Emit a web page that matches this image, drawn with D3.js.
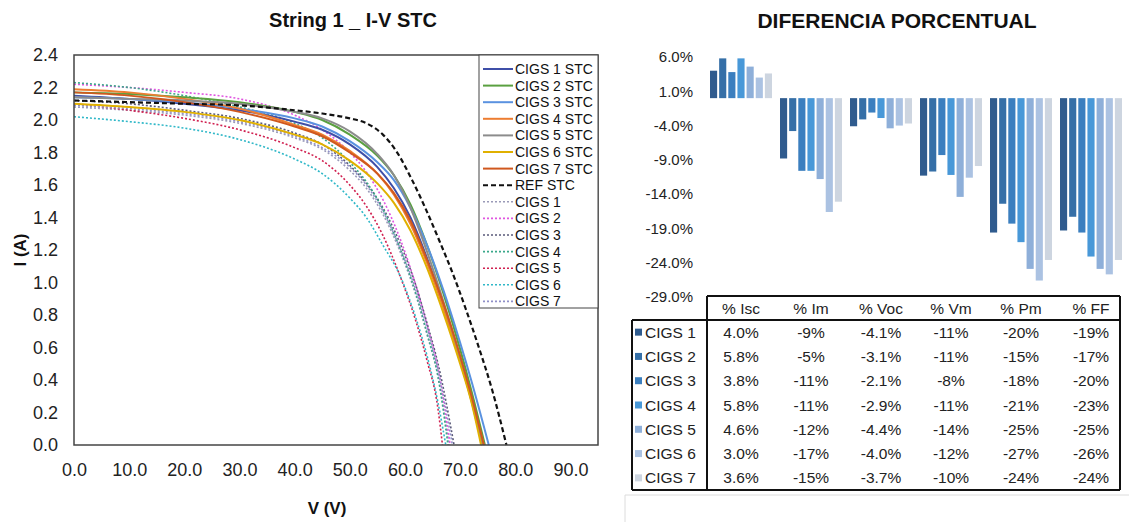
<!DOCTYPE html>
<html>
<head>
<meta charset="utf-8">
<script src="https://cdn.jsdelivr.net/npm/d3@7"></script>
<style>
  body { margin: 0; background: #fff; }
  svg { display: block; font-family: "Liberation Sans", Arial, sans-serif; }
</style>
</head>
<body>
<svg id="chart" width="1129" height="522"></svg>
<script>
// ---------- I-V curves: [voltage V, current A] ----------
const cigs1Stc = [[0,2.15],[10,2.13],[20,2.10],[30,2.06],[40,1.99],[45,1.94],[50,1.85],[55,1.71],[58,1.58],[61,1.40],[64,1.15],[67,0.85],[70,0.52],[72,0.28],[74.0,0]];
const cigs2Stc = [[0,2.17],[10,2.16],[20,2.14],[30,2.11],[40,2.05],[45,2.00],[50,1.91],[55,1.78],[58,1.66],[61,1.48],[64,1.23],[67,0.93],[70,0.59],[72,0.34],[74.5,0]];
const cigs3Stc = [[0,2.14],[10,2.13],[20,2.11],[30,2.07],[40,2.01],[45,1.96],[50,1.87],[55,1.74],[58,1.63],[61,1.46],[64,1.23],[67,0.95],[70,0.63],[72,0.40],[75.2,0]];
const cigs4Stc = [[0,2.19],[10,2.17],[20,2.13],[30,2.07],[40,1.97],[45,1.91],[50,1.81],[55,1.67],[58,1.54],[61,1.36],[64,1.12],[67,0.84],[70,0.52],[72,0.29],[74.3,0]];
const cigs5Stc = [[0,2.14],[10,2.13],[20,2.12],[30,2.10],[40,2.05],[45,2.01],[50,1.93],[55,1.79],[58,1.66],[61,1.46],[64,1.19],[67,0.88],[70,0.54],[72,0.30],[74.0,0]];
const cigs6Stc = [[0,2.10],[10,2.08],[20,2.05],[30,2.00],[40,1.91],[45,1.85],[50,1.75],[55,1.61],[58,1.49],[61,1.32],[64,1.09],[67,0.81],[70,0.50],[72,0.27],[73.8,0]];
const cigs7Stc = [[0,2.17],[10,2.15],[20,2.11],[30,2.05],[40,1.96],[45,1.90],[50,1.80],[55,1.67],[58,1.55],[61,1.38],[64,1.14],[67,0.87],[70,0.55],[72,0.31],[74.3,0]];
const refStc   = [[0,2.12],[10,2.11],[20,2.10],[30,2.09],[40,2.06],[45,2.04],[50,2.01],[53,1.98],[56,1.91],[58.4,1.81],[61.3,1.63],[63.8,1.45],[66.2,1.26],[68.5,1.07],[71,0.84],[73.4,0.60],[75.8,0.34],[78.4,0]];
const cigs1    = [[0,2.08],[10,2.06],[20,2.03],[30,1.98],[40,1.89],[45,1.82],[50,1.69],[53,1.58],[56,1.42],[59,1.20],[62,0.92],[64,0.68],[66,0.42],[68.0,0]];
const cigs2    = [[0,2.22],[10,2.20],[20,2.17],[30,2.13],[40,2.03],[45,1.94],[50,1.80],[53,1.68],[56,1.51],[59,1.28],[62,0.98],[64,0.74],[66,0.47],[68.2,0]];
const cigs3    = [[0,2.12],[10,2.10],[20,2.06],[30,2.01],[40,1.92],[45,1.85],[50,1.72],[53,1.61],[56,1.46],[59,1.25],[62,0.98],[64,0.75],[66,0.50],[68.9,0]];
const cigs4    = [[0,2.23],[10,2.20],[20,2.15],[30,2.08],[40,1.98],[45,1.89],[50,1.74],[53,1.62],[56,1.45],[59,1.22],[62,0.93],[64,0.69],[66,0.42],[67.8,0]];
const cigs5    = [[0,2.10],[10,2.06],[20,2.01],[30,1.94],[40,1.83],[45,1.75],[50,1.60],[53,1.47],[56,1.29],[59,1.05],[62,0.76],[64,0.52],[66,0.22],[66.8,0]];
const cigs6    = [[0,2.02],[10,1.99],[20,1.95],[30,1.88],[40,1.76],[45,1.67],[50,1.52],[53,1.40],[56,1.23],[59,1.05],[62,0.78],[64,0.55],[66,0.26],[67.4,0]];
const cigs7    = [[0,2.09],[10,2.07],[20,2.04],[30,1.99],[40,1.90],[45,1.83],[50,1.71],[53,1.60],[56,1.44],[59,1.22],[62,0.95],[64,0.72],[66,0.46],[68.6,0]];

const ivNames = ["CIGS 1 STC","CIGS 2 STC","CIGS 3 STC","CIGS 4 STC","CIGS 5 STC","CIGS 6 STC","CIGS 7 STC","REF STC",
                 "CIGS 1","CIGS 2","CIGS 3","CIGS 4","CIGS 5","CIGS 6","CIGS 7"];
const ivData = [cigs1Stc,cigs2Stc,cigs3Stc,cigs4Stc,cigs5Stc,cigs6Stc,cigs7Stc,refStc,
                cigs1,cigs2,cigs3,cigs4,cigs5,cigs6,cigs7];
const voltageTicks = [0,10,20,30,40,50,60,70,80,90];
const currentTicks = [0,0.2,0.4,0.6,0.8,1.0,1.2,1.4,1.6,1.8,2.0,2.2,2.4];

// ---------- percentage differences ----------
const modules = ["CIGS 1","CIGS 2","CIGS 3","CIGS 4","CIGS 5","CIGS 6","CIGS 7"];
const metrics = ["% Isc","% Im","% Voc","% Vm","% Pm","% FF"];
const pctIsc = [4.0, 5.8, 3.8, 5.8, 4.6, 3.0, 3.6];
const pctIm  = [-8.8, -4.8, -10.6, -10.6, -11.8, -16.6, -15.1];
const pctVoc = [-4.1, -3.1, -2.1, -2.9, -4.4, -4.0, -3.7];
const pctVm  = [-11.3, -10.7, -8.3, -11.2, -14.4, -11.6, -9.9];
const pctPm  = [-19.6, -15.4, -18.3, -21.0, -24.9, -26.6, -23.6];
const pctFF  = [-19.3, -17.3, -19.6, -23.1, -24.9, -25.7, -23.6];
const pctDecimals = [1, 0, 1, 0, 0, 0];
const pctTicks = [6, 1, -4, -9, -14, -19, -24, -29];

// ---------- styles ----------
const ivStyles = [
  {color:"#3f4fa8", width:2,   dash:null},
  {color:"#5aa040", width:2,   dash:null},
  {color:"#5a92e0", width:2,   dash:null},
  {color:"#ed7d31", width:2,   dash:null},
  {color:"#8c8c8c", width:2,   dash:null},
  {color:"#e0b000", width:2,   dash:null},
  {color:"#d0581e", width:2,   dash:null},
  {color:"#111111", width:2.2, dash:"5,3"},
  {color:"#9a9ab8", width:1.6, dash:"2,2"},
  {color:"#e055e0", width:1.6, dash:"2,2"},
  {color:"#5a5a7a", width:1.6, dash:"2,2"},
  {color:"#3aa88a", width:1.6, dash:"2,2"},
  {color:"#d02050", width:1.6, dash:"2,2"},
  {color:"#30b8c8", width:1.6, dash:"2,2"},
  {color:"#9090c8", width:1.6, dash:"2,2"}
];
const barColors = ["#2f5b8e","#356fa7","#3b7fbf","#4898d8","#8eafd9","#abc2e2","#cdd5e0"];

// number formatting with a plain hyphen for negatives
const fmtLocale = d3.formatLocale({decimal:".", thousands:",", grouping:[3], currency:["",""], minus:"-"});

const svg = d3.select("#chart");

// ================= Left: I-V chart =================
const plot = {left:74, top:55, right:598, bottom:445};
const x = d3.scaleLinear().domain([0,95]).range([plot.left, plot.right]);
const y = d3.scaleLinear().domain([0,2.4]).range([plot.bottom, plot.top]);

svg.append("text")
  .attr("x", 353).attr("y", 27).attr("text-anchor","middle")
  .attr("font-size", 20).attr("font-weight","bold").attr("fill","#111")
  .text("String 1 _ I-V STC");

// y axis labels
const yAxis = d3.axisLeft(y).tickValues(currentTicks).tickFormat(fmtLocale.format(".1f")).tickSize(0).tickPadding(16);
const gy = svg.append("g").attr("transform",`translate(${plot.left},0)`).call(yAxis);
gy.select(".domain").remove();
gy.selectAll("text").attr("font-size",18).attr("fill","#222").attr("font-family","Liberation Sans, Arial, sans-serif");

// x axis labels
const xAxis = d3.axisBottom(x).tickValues(voltageTicks).tickFormat(fmtLocale.format(".1f")).tickSize(0).tickPadding(18);
const gx = svg.append("g").attr("transform",`translate(0,${plot.bottom})`).call(xAxis);
gx.select(".domain").remove();
gx.selectAll("text").attr("font-size",18).attr("fill","#222").attr("font-family","Liberation Sans, Arial, sans-serif");

// axis titles
svg.append("text")
  .attr("transform",`translate(26,${(plot.top+plot.bottom)/2}) rotate(-90)`)
  .attr("text-anchor","middle").attr("font-size",17).attr("font-weight","bold").attr("fill","#111")
  .text("I (A)");
svg.append("text")
  .attr("x", 327).attr("y", 514).attr("text-anchor","middle")
  .attr("font-size",17).attr("font-weight","bold").attr("fill","#111")
  .text("V (V)");

// curves
const line = d3.line().x(d => x(d[0])).y(d => y(d[1])).curve(d3.curveMonotoneX);
const drawOrder = [8,9,10,11,12,13,14,0,1,2,3,4,5,6,7];
svg.append("g").selectAll("path")
  .data(drawOrder)
  .join("path")
  .attr("d", i => line(ivData[i]))
  .attr("fill","none")
  .attr("stroke", i => ivStyles[i].color)
  .attr("stroke-width", i => ivStyles[i].width)
  .attr("stroke-dasharray", i => ivStyles[i].dash);

// plot frame
svg.append("rect")
  .attr("x", plot.left).attr("y", plot.top)
  .attr("width", plot.right - plot.left).attr("height", plot.bottom - plot.top)
  .attr("fill","none").attr("stroke","#444").attr("stroke-width",1.5);

// legend
const leg = {left:479, top:55, right:598, bottom:308, row0:69, step:16.6};
svg.append("rect")
  .attr("x", leg.left).attr("y", leg.top)
  .attr("width", leg.right-leg.left).attr("height", leg.bottom-leg.top)
  .attr("fill","#fff").attr("stroke","#444").attr("stroke-width",1);
const legRows = svg.append("g").selectAll("g").data(ivNames).join("g")
  .attr("transform",(d,i)=>`translate(0,${leg.row0 + i*leg.step})`);
legRows.append("line")
  .attr("x1",483).attr("x2",513).attr("y1",0).attr("y2",0)
  .attr("stroke",(d,i)=>ivStyles[i].color)
  .attr("stroke-width",(d,i)=>Math.min(ivStyles[i].width,2))
  .attr("stroke-dasharray",(d,i)=>ivStyles[i].dash);
legRows.append("text")
  .attr("x",515).attr("y",5).attr("font-size",14).attr("fill","#111")
  .text(d=>d);

// ================= Right: percentage difference chart =================
svg.append("text")
  .attr("x", 897).attr("y", 28).attr("text-anchor","middle")
  .attr("font-size", 21).attr("font-weight","bold").attr("fill","#111")
  .text("DIFERENCIA PORCENTUAL");

const bandX = d3.scaleBand().domain(metrics).range([706, 1126]).paddingInner(0).paddingOuter(0);
const subX = d3.scaleBand().domain(modules).range([4, bandX.bandwidth()-4]).paddingInner(0.22).paddingOuter(0);
const yp = d3.scaleLinear().domain([-29, 6]).range([297, 57]);

const pctFmt1 = fmtLocale.format(".1f");
const pAxis = d3.axisLeft(yp).tickValues(pctTicks).tickFormat(d => pctFmt1(d) + "%").tickSize(0).tickPadding(0);
const gp = svg.append("g").attr("transform","translate(693,0)").call(pAxis);
gp.select(".domain").remove();
gp.selectAll("text").attr("font-size",15).attr("fill","#222").attr("font-family","Liberation Sans, Arial, sans-serif");

const pctSeries = [pctIsc, pctIm, pctVoc, pctVm, pctPm, pctFF];
const barData = [];
metrics.forEach((m, mi) => modules.forEach((mod, k) => barData.push({metric:m, module:mod, k, value:pctSeries[mi][k]})));

svg.append("g").selectAll("rect").data(barData).join("rect")
  .attr("x", d => bandX(d.metric) + subX(d.module))
  .attr("width", subX.bandwidth())
  .attr("y", d => Math.min(yp(d.value), yp(0)))
  .attr("height", d => Math.abs(yp(d.value) - yp(0)))
  .attr("fill", d => barColors[d.k]);

// data table
const tbl = {left:632, colStart:707, right:1120, top:296, headBottom:320, bottom:490};
const rowY = d3.scaleBand().domain(modules).range([tbl.headBottom, tbl.bottom]);
const tg = svg.append("g");
tg.append("line").attr("x1",tbl.colStart).attr("x2",tbl.right).attr("y1",tbl.top).attr("y2",tbl.top);
tg.append("line").attr("x1",tbl.left).attr("x2",tbl.right).attr("y1",tbl.headBottom).attr("y2",tbl.headBottom);
tg.append("line").attr("x1",tbl.left).attr("x2",tbl.right).attr("y1",tbl.bottom).attr("y2",tbl.bottom);
tg.append("line").attr("x1",tbl.left).attr("x2",tbl.left).attr("y1",tbl.headBottom).attr("y2",tbl.bottom);
tg.append("line").attr("x1",tbl.colStart).attr("x2",tbl.colStart).attr("y1",tbl.top).attr("y2",tbl.bottom);
tg.append("line").attr("x1",tbl.right).attr("x2",tbl.right).attr("y1",tbl.top).attr("y2",tbl.bottom);
tg.selectAll("line").attr("stroke","#111").attr("stroke-width",2);

// header
tg.append("g").selectAll("text").data(metrics).join("text")
  .attr("x", d => bandX(d) + bandX.bandwidth()/2)
  .attr("y", (tbl.top+tbl.headBottom)/2 + 5.5)
  .attr("text-anchor","middle").attr("font-size",15.5).attr("fill","#222")
  .text(d => d);

// row keys and labels
const rows = tg.append("g").selectAll("g").data(modules).join("g")
  .attr("transform", d => `translate(0,${rowY(d) + rowY.bandwidth()/2})`);
rows.append("rect").attr("x",635).attr("y",-3.5).attr("width",7).attr("height",7)
  .attr("fill",(d,i)=>barColors[i]);
rows.append("text").attr("x",645).attr("y",5.5).attr("font-size",15.5).attr("fill","#222").text(d=>d);

// cell values
rows.each(function(mod, k) {
  d3.select(this).selectAll("text.val").data(metrics).join("text")
    .attr("class","val")
    .attr("x", m => bandX(m) + bandX.bandwidth()/2)
    .attr("y", 5.5)
    .attr("text-anchor","middle").attr("font-size",15.5).attr("fill","#222")
    .text((m, mi) => fmtLocale.format("." + pctDecimals[mi] + "f")(pctSeries[mi][k]) + "%");
});

// neighbouring frame edge at the bottom right
svg.append("path").attr("d","M625,522 V495 H1129").attr("fill","none").attr("stroke","#dcdcdc").attr("stroke-width",1);
</script>
</body>
</html>
